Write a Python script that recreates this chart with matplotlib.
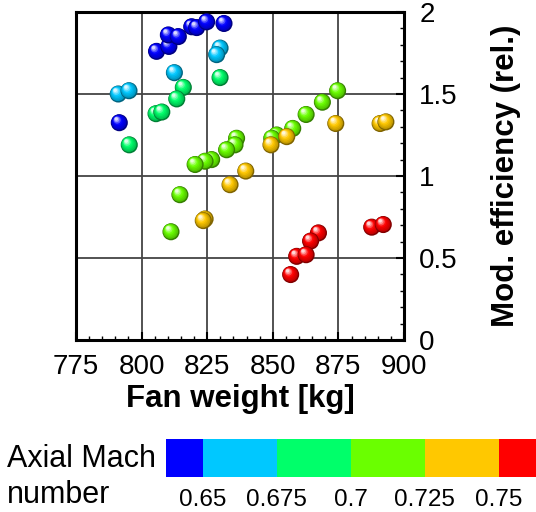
import numpy as np
import matplotlib
matplotlib.use("Agg")
import matplotlib.pyplot as plt
from matplotlib.colors import ListedColormap, BoundaryNorm, to_rgb
from matplotlib.cm import ScalarMappable
from matplotlib.ticker import MultipleLocator
from matplotlib.transforms import ScaledTranslation

plt.rcParams['font.family'] = ['Liberation Sans', 'DejaVu Sans']

# ---- data ----
weight_blue = [805.7, 810.4, 810.2, 814.0, 819.1, 821.0, 824.8, 831.4, 791.5]
eff_blue = [1.76, 1.79, 1.86, 1.85, 1.91, 1.905, 1.94, 1.93, 1.325]

weight_cyan = [829.9, 828.6, 812.5, 791.1, 795.2]
eff_cyan = [1.78, 1.74, 1.63, 1.50, 1.52]

weight_green = [829.9, 815.9, 813.4, 805.5, 807.7, 795.3]
eff_green = [1.60, 1.54, 1.47, 1.38, 1.39, 1.19]

weight_lime = [874.7, 868.9, 862.7, 857.6, 851.5, 849.6, 836.2, 835.6, 832.4,
               826.7, 824.2, 820.4, 814.6, 811.2]
eff_lime = [1.52, 1.45, 1.375, 1.29, 1.25, 1.23, 1.23, 1.19, 1.16,
            1.10, 1.09, 1.07, 0.886, 0.66]

weight_orange = [874.0, 890.9, 893.1, 855.3, 849.3, 839.7, 833.7, 824.2, 823.5]
eff_orange = [1.32, 1.32, 1.33, 1.24, 1.19, 1.03, 0.947, 0.738, 0.728]

weight_red = [867.4, 864.4, 859.1, 862.7, 856.8, 887.7, 892.1]
eff_red = [0.653, 0.603, 0.51, 0.52, 0.399, 0.688, 0.704]

mach_groups = [0.645, 0.66, 0.69, 0.71, 0.735, 0.755]
groups = [(weight_blue, eff_blue), (weight_cyan, eff_cyan), (weight_green, eff_green),
          (weight_lime, eff_lime), (weight_orange, eff_orange), (weight_red, eff_red)]

mach_bounds = [0.6375, 0.65, 0.675, 0.7, 0.725, 0.75, 0.7625]
mach_ticks = [0.65, 0.675, 0.7, 0.725, 0.75]
mach_ticklabels = ['0.65', '0.675', '0.7', '0.725', '0.75']
band_colors = ['#0000ff', '#00c8ff', '#00ff6a', '#6aff00', '#ffc800', '#ff0000']

x_ticks = [775, 800, 825, 850, 875, 900]
y_ticks = [0, 0.5, 1, 1.5, 2]
y_ticklabels = ['0', '0.5', '1', '1.5', '2']

cmap = ListedColormap(band_colors)
norm = BoundaryNorm(mach_bounds, cmap.N)

fig = plt.figure(figsize=(5.36, 5.12), dpi=100)
ax = fig.add_axes([76/536, 1-340/512, 328/536, 328/512])


def mix(c, t, target):
    c = np.array(to_rgb(c))
    return tuple(c*(1-t) + np.array(target)*t)


base_size = 12.3  # points diameter
for (xs, ys), m in zip(groups, mach_groups):
    col = cmap(norm(m))[:3]
    for xi, yi in zip(xs, ys):
        # dark rim
        ax.scatter([xi], [yi], s=base_size**2, color=mix(col, 0.5, (0, 0, 0)),
                   edgecolors='none', zorder=3)
        # layered shading towards a highlight in the upper left
        nlay = 7
        for k in range(1, nlay+1):
            f = k / nlay
            d = base_size*(1 - 0.8*f)
            off = 0.22*base_size*f
            tr = ax.transData + ScaledTranslation(-off/72*0.8, off/72, fig.dpi_scale_trans)
            if f < 0.55:
                c = mix(col, 0.3*(1-f/0.55), (0, 0, 0))
            else:
                c = mix(col, (f-0.55)/0.45*0.85, (1, 1, 1))
            ax.scatter([xi], [yi], s=d**2, color=c, edgecolors='none',
                       zorder=3, transform=tr)

ax.set_xlim(775, 900)
ax.set_ylim(0, 2)
ax.set_xticks(x_ticks)
ax.set_xticklabels([str(v) for v in x_ticks])
ax.set_yticks(y_ticks)
ax.set_yticklabels(y_ticklabels)
ax.xaxis.set_minor_locator(MultipleLocator(5))
ax.yaxis.set_minor_locator(MultipleLocator(0.1))
ax.yaxis.tick_right()
ax.yaxis.set_label_position('right')
ax.tick_params(axis='both', which='both', direction='in', top=False, left=False,
               labelsize=20, colors='black')
ax.tick_params(axis='x', which='major', length=6, width=1.5, pad=10)
ax.tick_params(axis='y', which='major', length=6, width=1.5, pad=11)
ax.tick_params(which='minor', length=3, width=1)
ax.grid(True, which='major', color='#444444', linewidth=1.3)
ax.set_axisbelow(True)
for sp in ax.spines.values():
    sp.set_linewidth(2.2)
ax.set_xlabel('Fan weight [kg]', fontsize=22.5, fontweight='bold', labelpad=3)
ax.set_ylabel('Mod. efficiency (rel.)', fontsize=22.5, fontweight='bold', labelpad=24)

# colour bar
cax = fig.add_axes([165.7/536, 1-477/512, 370.3/536, 38/512])
sm = ScalarMappable(norm=norm, cmap=cmap)
cb = fig.colorbar(sm, cax=cax, orientation='horizontal', ticks=mach_ticks,
                  spacing='proportional')
cb.ax.set_xticks(mach_ticks)
cb.ax.set_xticklabels(mach_ticklabels)
cb.ax.tick_params(length=0, labelsize=17.5, pad=9)
cb.outline.set_visible(False)
cb.ax.xaxis.set_minor_locator(plt.NullLocator())

fig.text(7/536, 1-467/512, 'Axial Mach', fontsize=22, ha='left', va='baseline')
fig.text(7/536, 1-503/512, 'number', fontsize=22, ha='left', va='baseline')

fig.savefig('out.png', dpi=100)
